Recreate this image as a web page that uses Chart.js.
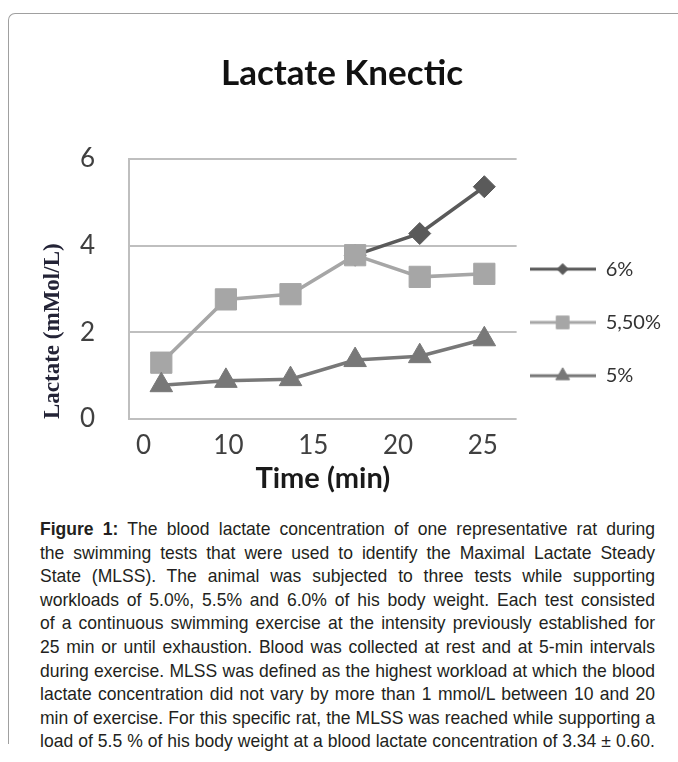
<!DOCTYPE html>
<html><head><meta charset="utf-8">
<script src="https://cdn.jsdelivr.net/npm/chart.js@4.4.1/dist/chart.umd.min.js"></script>
<style>
html,body{margin:0;padding:0;background:#fff;width:678px;height:762px;overflow:hidden;}
#frame{position:absolute;left:8px;top:13px;width:720px;height:730px;border-top:1px solid #a0a0a0;border-left:1px solid #a0a0a0;border-top-left-radius:7px;}
#wrap{position:absolute;left:0;top:0;width:678px;height:504px;}
#cap{position:absolute;left:40px;top:517px;width:615px;font-family:'Liberation Sans',Arial,sans-serif;font-size:19px;line-height:23.6px;color:#231f20;transform-origin:0 0;}
#cap div{text-align:justify;text-align-last:justify;white-space:nowrap;}
</style></head><body>
<div id="frame"></div>
<div id="wrap"><canvas id="c" width="678" height="504"></canvas></div>
<div id="cap">
<div><b>Figure 1:</b> The blood lactate concentration of one representative rat during</div>
<div>the swimming tests that were used to identify the Maximal Lactate Steady</div>
<div>State (MLSS). The animal was subjected to three tests while supporting</div>
<div>workloads of 5.0%, 5.5% and 6.0% of his body weight. Each test consisted</div>
<div>of a continuous swimming exercise at the intensity previously established for</div>
<div>25 min or until exhaustion. Blood was collected at rest and at 5-min intervals</div>
<div>during exercise. MLSS was defined as the highest workload at which the blood</div>
<div>lactate concentration did not vary by more than 1 mmol/L between 10 and 20</div>
<div>min of exercise. For this specific rat, the MLSS was reached while supporting a</div>
<div>load of 5.5 % of his body weight at a blood lactate concentration of 3.34 ± 0.60.</div>
</div>
<script>
const timePoints = ['0', '5', '10', '15', '20', '25'];
const tickLabels = ['0', '10', '15', '20', '25'];
const seriesNames = ['6%', '5,50%', '5%'];
const lactate6 = [null, null, null, 3.78, 4.28, 5.36];
const lactate55 = [1.30, 2.76, 2.88, 3.78, 3.28, 3.35];
const lactate5 = [0.78, 0.88, 0.92, 1.36, 1.45, 1.84];

// fit caption lines (condensed look of the original)
(function () {
  const cap = document.getElementById('cap');
  let maxW = 0;
  [...cap.children].forEach(d => {
    const s = document.createElement('span');
    s.innerHTML = d.innerHTML;
    s.style.whiteSpace = 'nowrap';
    s.style.position = 'absolute';
    s.style.visibility = 'hidden';
    cap.appendChild(s);
    maxW = Math.max(maxW, s.getBoundingClientRect().width);
    s.remove();
  });
  const k = Math.min(1, 613 / maxW);
  cap.style.width = (615 / k) + 'px';
  cap.style.transform = 'scaleX(' + k + ')';
})();

const colors = ['#5a5a5a', '#a6a6a6', '#787878'];
const styles = ['rectRot', 'rect', 'triangle'];
const radii = [11, 15, 13];
const legendRadii = [5.5, 9, 8];

Chart.defaults.font.family = "Lato, 'Open Sans', sans-serif";
Chart.defaults.color = '#404040';

function legendIcon(i) {
  const c = document.createElement('canvas');
  c.width = 66; c.height = 22;
  const g = c.getContext('2d');
  g.strokeStyle = colors[i]; g.fillStyle = colors[i];
  g.lineWidth = 3;
  g.beginPath(); g.moveTo(0, 11); g.lineTo(66, 11); g.stroke();
  g.lineWidth = 1;
  Chart.helpers.drawPoint(g, {pointStyle: styles[i], radius: legendRadii[i], borderWidth: 1, rotation: 0}, 33, 11);
  return c;
}
const icons = [0, 1, 2].map(legendIcon);

const seriesData = [lactate6, lactate55, lactate5];
const orders = [2, 1, 0];

new Chart(document.getElementById('c'), {
  type: 'line',
  data: {
    labels: timePoints,
    datasets: seriesNames.map((name, i) => ({
      label: name,
      data: seriesData[i],
      borderColor: colors[i],
      backgroundColor: colors[i],
      pointBackgroundColor: colors[i],
      pointBorderColor: colors[i],
      borderWidth: 3.5,
      pointStyle: styles[i],
      pointRadius: radii[i],
      pointHoverRadius: radii[i],
      pointBorderWidth: 1,
      tension: 0,
      order: orders[i],
      xAxisID: 'x',
      yAxisID: 'y'
    }))
  },
  options: {
    responsive: false,
    animation: false,
    layout: {padding: {left: 13, right: 7, top: 0, bottom: 3}},
    plugins: {
      tooltip: {enabled: false},
      title: {
        display: true, text: 'Lactate Knectic', color: '#111',
        font: {size: 35, weight: 'bold'},
        padding: {top: 53, bottom: 64}
      },
      legend: {
        display: true, position: 'right', align: 'end', fullSize: false,
        labels: {
          usePointStyle: true, pointStyleWidth: 66, padding: 13,
          color: '#333',
          font: {size: 20, lineHeight: '40.3px'},
          sort: (a, b) => a.datasetIndex - b.datasetIndex,
          generateLabels(chart) {
            const items = Chart.defaults.plugins.legend.labels.generateLabels(chart);
            items.forEach(it => { it.text = [it.text]; it.pointStyle = icons[it.datasetIndex]; });
            return items;
          }
        }
      }
    },
    scales: {
      x: {type: 'category', offset: true, display: false},
      x2: {
        type: 'linear', position: 'bottom', min: -0.172, max: 4.398,
        grid: {display: false, drawTicks: false}, border: {display: false},
        afterBuildTicks: s => { s.ticks = tickLabels.map((_, i) => ({value: i})); },
        afterFit: s => { s.height = 82; },
        ticks: {autoSkip: false, maxRotation: 0, padding: 11, color: '#404040', font: {size: 26},
          callback: (v, i) => tickLabels[i]},
        title: {display: true, text: 'Time (min)', color: '#1a1a1a', font: {size: 29, weight: 'bold'}, padding: {top: 3, bottom: 5}}
      },
      y: {
        min: 0, max: 6,
        afterFit: s => { s.width = 116; },
        ticks: {stepSize: 2, padding: 34, color: '#404040', font: {size: 26}},
        grid: {color: '#bfbfbf', lineWidth: 2, drawTicks: false},
        border: {display: true, color: '#bfbfbf', width: 2},
        title: {display: true, text: 'Lactate (mMol/L)', align: 'start', color: '#232336',
          font: {family: "'Liberation Serif', 'DejaVu Serif', serif", size: 23, weight: 'bold'},
          padding: {top: 26, bottom: 14}}
      }
    }
  }
});
</script>
</body></html>
